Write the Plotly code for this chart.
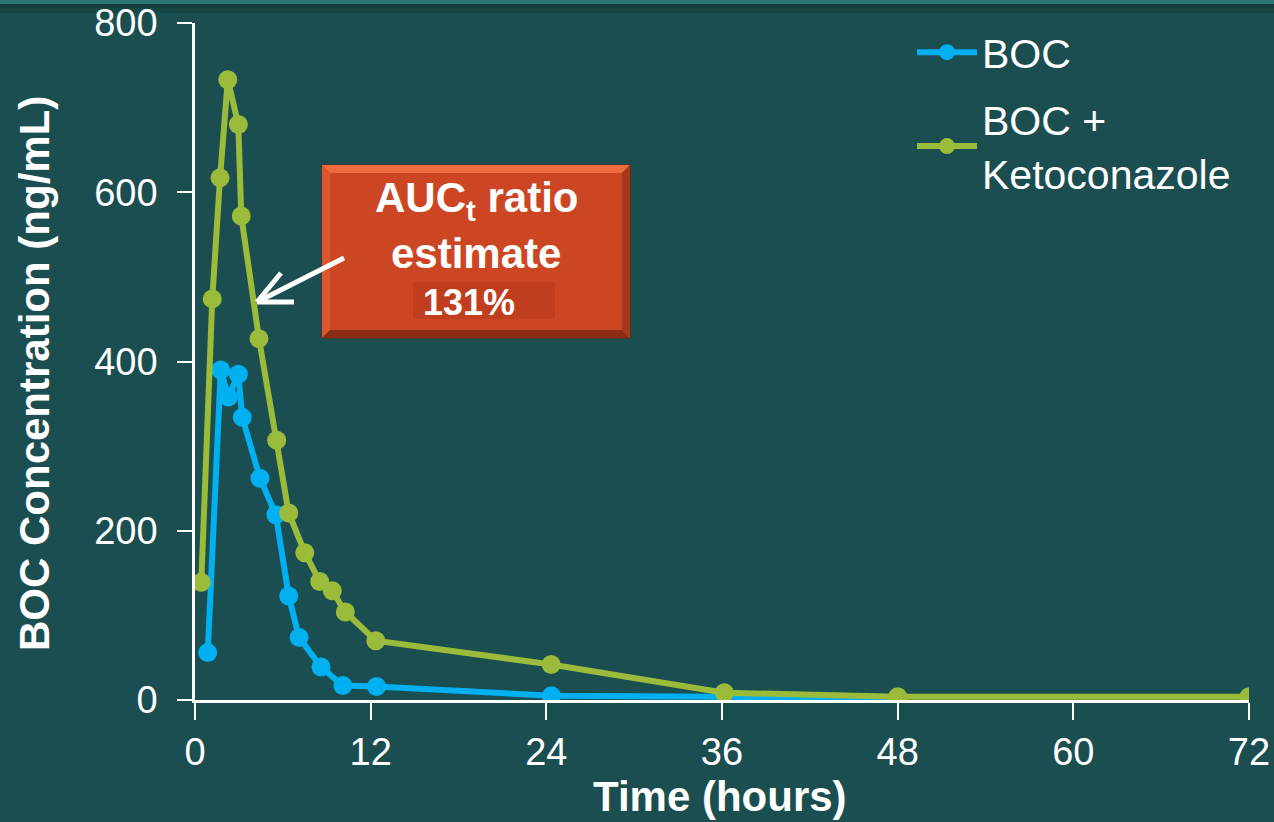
import plotly.graph_objects as go

# ---- data ----
boc_t = [0.87, 1.76, 2.28, 2.96, 3.23, 4.44, 5.52, 6.40, 7.11, 8.61, 10.1, 12.4, 24.35, 36.2, 48.0]
boc_c = [56, 390, 358, 385, 334, 262, 219, 123, 74, 39, 17, 16, 5, 3.5, 2.5]

keto_t = [0.43, 1.18, 1.71, 2.24, 2.96, 3.16, 4.37, 5.58, 6.40, 7.50, 8.52, 9.38, 10.27, 12.35, 24.33, 36.16, 48.0, 72.0]
keto_c = [139, 474, 617, 733, 680, 572, 427, 307, 221, 174, 140, 129, 104, 70, 42, 8.6, 3.9, 3.9]

x_ticks = [0, 12, 24, 36, 48, 60, 72]
y_ticks = [0, 200, 400, 600, 800]

BG = "#1B4E50"
BLUE = "#00B0F0"
GREEN = "#9BBB3B"
FONT = "Liberation Sans, Arial, sans-serif"

W, H = 1274, 822
L, R, T, B = 195, 25, 23, 122


def px(xp):
    return (xp - L) / (W - L - R)


def py(yp):
    return (H - B - yp) / (H - T - B)


fig = go.Figure()
fig.add_trace(go.Scatter(x=boc_t, y=boc_c, name="BOC", mode="lines+markers",
                         legendgroup="a",
                         line=dict(color=BLUE, width=6),
                         marker=dict(color=BLUE, size=19)))
fig.add_trace(go.Scatter(x=keto_t, y=keto_c, name="BOC +<br>Ketoconazole", mode="lines+markers",
                         legendgroup="b",
                         line=dict(color=GREEN, width=6),
                         marker=dict(color=GREEN, size=19)))

shapes = []
# top decorative strip
shapes.append(dict(type="rect", xref="paper", yref="paper", x0=px(0), x1=px(W), y0=py(0), y1=py(4),
                   fillcolor="#2C7572", line_width=0, layer="below"))
shapes.append(dict(type="rect", xref="paper", yref="paper", x0=px(0), x1=px(W), y0=py(4), y1=py(8),
                   fillcolor="#133D3E", line_width=0, layer="below"))
shapes.append(dict(type="rect", xref="paper", yref="paper", x0=px(0), x1=px(W), y0=py(8), y1=py(13),
                   fillcolor="#174647", line_width=0, layer="below"))

# callout box with bevel
bx0, bx1, by0, by1, bv = 322, 630, 165, 338, 8
shapes.append(dict(type="rect", xref="paper", yref="paper", x0=px(bx0), x1=px(bx1), y0=py(by0), y1=py(by1),
                   fillcolor="#CD4623", line=dict(color="#6E2410", width=1)))


def poly(pts, color):
    d = "M " + " L ".join(f"{px(a)},{py(b)}" for a, b in pts) + " Z"
    return dict(type="path", xref="paper", yref="paper", path=d, fillcolor=color, line_width=0)


def seg(p0, p1, color="white", width=5):
    return dict(type="line", xref="paper", yref="paper", x0=px(p0[0]), y0=py(p0[1]),
                x1=px(p1[0]), y1=py(p1[1]), line=dict(color=color, width=width))


shapes.append(poly([(bx0, by0), (bx1, by0), (bx1 - bv, by0 + bv), (bx0 + bv, by0 + bv)], "#EE6B40"))
shapes.append(poly([(bx0, by0), (bx0 + bv, by0 + bv), (bx0 + bv, by1 - bv), (bx0, by1)], "#D9572F"))
shapes.append(poly([(bx0, by1), (bx1, by1), (bx1 - bv, by1 - bv), (bx0 + bv, by1 - bv)], "#8A2B12"))
shapes.append(poly([(bx1, by0), (bx1, by1), (bx1 - bv, by1 - bv), (bx1 - bv, by0 + bv)], "#A8381A"))
# darker highlight behind 131%
shapes.append(dict(type="rect", xref="paper", yref="paper", x0=px(413), x1=px(555), y0=py(282), y1=py(319),
                   fillcolor="#C03E1E", line_width=0))

# white callout arrow (open chevron head)
tip = (257, 302)
shapes.append(seg((344, 258), (259, 301)))
shapes.append(seg(tip, (281, 273)))
shapes.append(seg(tip, (294, 302)))

annotations = [
    dict(xref="paper", yref="paper", x=px(476), y=py(201), text="<b>AUC<sub>t</sub> ratio</b>",
         showarrow=False, font=dict(family=FONT, size=42, color="white"), xanchor="center", yanchor="middle"),
    dict(xref="paper", yref="paper", x=px(476), y=py(253), text="<b>estimate</b>",
         showarrow=False, font=dict(family=FONT, size=42, color="white"), xanchor="center", yanchor="middle"),
    dict(xref="paper", yref="paper", x=px(469), y=py(302), text="<b>131%</b>",
         showarrow=False, font=dict(family=FONT, size=36, color="white"), xanchor="center", yanchor="middle"),
    # axis titles
    dict(xref="paper", yref="paper", x=px(34), y=py(374), text="<b>BOC Concentration (ng/mL)</b>",
         textangle=-90, showarrow=False, font=dict(family=FONT, size=42, color="white"),
         xanchor="center", yanchor="middle"),
    dict(xref="paper", yref="paper", x=px(720), y=py(796), text="<b>Time (hours)</b>",
         showarrow=False, font=dict(family=FONT, size=42, color="white"),
         xanchor="center", yanchor="middle"),
]

fig.update_layout(
    width=W, height=H,
    margin=dict(l=L, r=R, t=T, b=B, autoexpand=False),
    paper_bgcolor=BG, plot_bgcolor=BG,
    font=dict(family=FONT, color="white", size=40),
    shapes=shapes, annotations=annotations,
    showlegend=True,
    legend=dict(x=px(912), y=py(19), xanchor="left", yanchor="top", bgcolor="rgba(0,0,0,0)",
                font=dict(family=FONT, size=41, color="white"), itemwidth=60,
                tracegroupgap=11),
    xaxis=dict(range=[0, 72], tickvals=x_ticks, ticktext=[str(v) for v in x_ticks],
               showgrid=False, zeroline=False, showline=True, linecolor="white", linewidth=2.5,
               ticks="outside", ticklen=17, tickwidth=2, tickcolor="white", automargin=False,
               tickfont=dict(family=FONT, size=38, color="white")),
    yaxis=dict(range=[0, 800], tickvals=y_ticks, ticktext=[str(v) for v in y_ticks],
               showgrid=False, zeroline=False, showline=True, linecolor="white", linewidth=2.5,
               ticks="outside", ticklen=15, tickwidth=2, tickcolor="white", automargin=False,
               ticklabelstandoff=12,
               tickfont=dict(family=FONT, size=38, color="white")),
)

fig.write_html("out.html")
